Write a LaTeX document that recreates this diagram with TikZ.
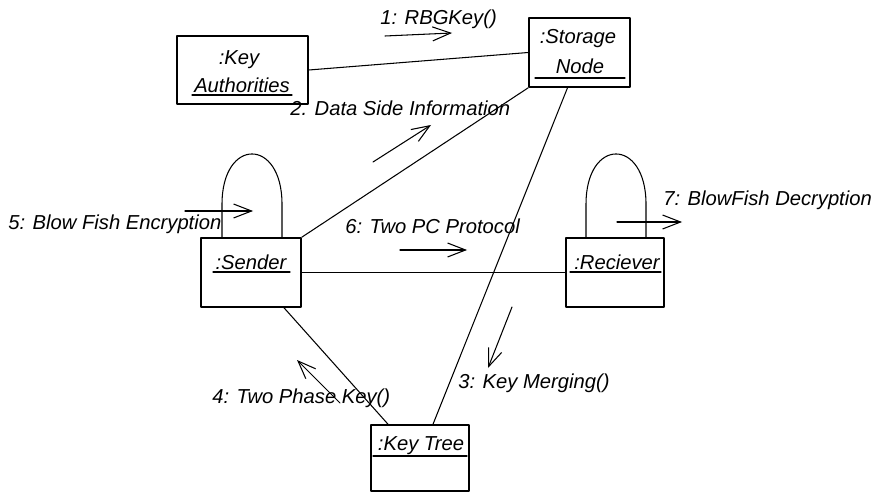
\documentclass[tikz,border=0pt]{standalone}
\usepackage{fontspec}
\setmainfont{Liberation Sans}
\usetikzlibrary{arrows.meta,calc}

\tikzset{
  obj/.style={draw,line width=0.9pt,inner sep=0pt},
  lbl/.style={font=\fontsize{11.5}{13}\selectfont\itshape,inner sep=0pt},
  msg/.style={font=\fontsize{11.5}{13}\selectfont\itshape,inner sep=0pt,anchor=west},
  link/.style={line width=0.6pt},
  flow/.style={line width=0.6pt,-{Straight Barb[length=3.6mm,width=2.8mm,line width=0.6pt]}},
}

\begin{document}
\begin{tikzpicture}[x=0.02cm,y=-0.02cm,line cap=round,line join=round]
  \useasboundingbox (0,0) rectangle (881,493);
  % objects
  \node[obj,minimum width=2.62cm,minimum height=1.36cm] (keyauth) at (242.5,70) {};
  \node[obj,minimum width=2.02cm,minimum height=1.38cm] (storage) at (579.5,52.5) {};
  \node[obj,minimum width=2.00cm,minimum height=1.38cm] (sender) at (251,272.5) {};
  \node[obj,minimum width=1.96cm,minimum height=1.38cm] (reciever) at (615,272.5) {};
  \node[obj,minimum width=1.96cm,minimum height=1.32cm] (keytree) at (420,458) {};
  % object names
  \node[lbl] (keyauthA) at (239,60) {:Key};
  \node[lbl] (keyauthB) at (242,85) {Authorities};
  \node[lbl] (storageA) at (578,39) {:Storage};
  \node[lbl] (storageB) at (580,66) {Node};
  \node[lbl] (senderA) at (251,262) {:Sender};
  \node[lbl] (recieverA) at (617,262) {:Reciever};
  \node[lbl] (keytreeA) at (421,446) {:Key Tree};
  \draw[line width=0.7pt] (192,95) -- (292,95);
  \draw[line width=0.7pt] (535,78) -- (625,78);
  \draw[line width=0.7pt] (213,272) -- (290,272);
  \draw[line width=0.7pt] (570,272) -- (661,272);
  \draw[line width=0.7pt] (373,456) -- (467,456);
  % links
  \draw[link] (keyauth.east) -- (storage.west);
  \draw[link] (sender.north east) -- (storage.south west);
  \draw[link] ($(storage.south)+(-12,0)$) -- ($(keytree.north)+(13,0)$);
  \draw[link] (sender.east) -- (reciever.west);
  \draw[link] ($(sender.south)+(33,0)$) -- ($(keytree.north)+(-32,0)$);
  % self loops
  \draw[link] ($(sender.north)+(-29,0)$) -- ++(0,-33) .. controls +(0,-67) and +(0,-67) .. ($(sender.north)+(31,-33)$) -- ($(sender.north)+(31,0)$);
  \draw[link] ($(reciever.north)+(-29,0)$) -- ++(0,-33) .. controls +(0,-67) and +(0,-67) .. ($(reciever.north)+(31,-33)$) -- ($(reciever.north)+(31,0)$);
  % messages
  \coordinate (m1a) at (385,36);
  \coordinate (m1b) at (452,33);
  \coordinate (m2a) at (373,162);
  \coordinate (m2b) at (431,125);
  \coordinate (m3a) at (512,307);
  \coordinate (m3b) at (488,368);
  \coordinate (m4a) at (340,403);
  \coordinate (m4b) at (297,360);
  \coordinate (m5a) at (185,211);
  \coordinate (m5b) at (253,211);
  \coordinate (m6a) at (400,250);
  \coordinate (m6b) at (467,250);
  \coordinate (m7a) at (617,222);
  \coordinate (m7b) at (682,222);
  \draw[flow] (m1a) -- (m1b);
  \draw[flow] (m2a) -- (m2b);
  \draw[flow] (m3a) -- (m3b);
  \draw[flow] (m4a) -- (m4b);
  \draw[flow] (m5a) -- (m5b);
  \draw[flow] (m6a) -- (m6b);
  \draw[flow] (m7a) -- (m7b);
  \node[msg] (msg1) at (380,19) {1: RBGKey()};
  \node[msg] (msg2) at (290,108) {2. Data Side Information};
  \node[msg] (msg3) at (458,383) {3: Key Merging()};
  \node[msg] (msg4) at (212,398) {4: Two Phase Key()};
  \node[msg] (msg5) at (8,224) {5: Blow Fish Encryption};
  \node[msg] (msg6) at (345,226) {6: Two PC Protocol};
  \node[msg] (msg7) at (663,200) {7: BlowFish Decryption};
\end{tikzpicture}
\end{document}
